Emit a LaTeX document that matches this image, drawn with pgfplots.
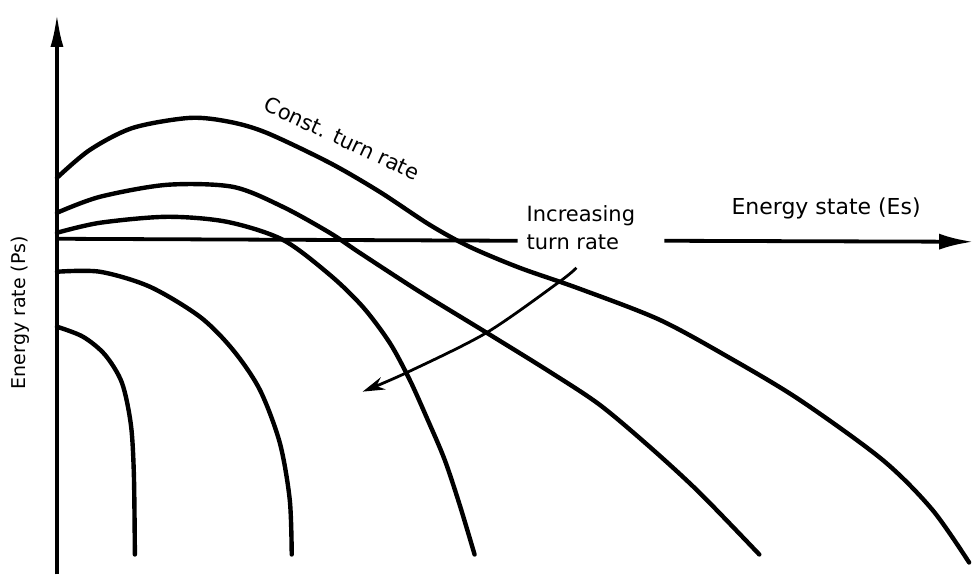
\documentclass[border=0pt]{standalone}
\usepackage{pgfplots}
\pgfplotsset{compat=1.18}
\usetikzlibrary{arrows.meta}
\usepackage{fontspec}
\setmainfont{DejaVu Sans}

\begin{document}
\begin{tikzpicture}
\begin{axis}[
    width=975pt, height=575pt, scale only axis,
    xmin=0, xmax=975, ymin=0, ymax=575,
    hide axis, clip=false,
    curve/.style={black, line width=4.4pt, smooth, mark=none, line cap=round},
]
% frame for the bounding box
\path (axis cs:0,0) rectangle (axis cs:975,575);

% axes (y measured upwards from the bottom edge)
\draw[line width=3.8pt, -{Latex[length=34pt, width=13pt]}] (axis cs:57,0) -- (axis cs:57,562);
\draw[line width=3.8pt] (axis cs:57,336) -- (axis cs:518,334);
\draw[line width=3.8pt, -{Latex[length=34pt, width=16pt]}] (axis cs:665,334) -- (axis cs:974,333);

% constant turn rate curves
\addplot[curve] coordinates {(57,397) (90,425) (133,447) (190,457) (230,453) (267,442) (330,412)
  (380,383) (430,350) (470,328) (520,307) (580,286) (660,255) (730,217) (800,175)
  (883,115) (933,65) (970,12)};
\addplot[curve] coordinates {(57,362) (100,378) (167,390) (233,388) (283,368) (330,342) (360,322)
  (420,283) (487,242) (550,203) (600,170) (650,128) (700,82) (760,20)};
\addplot[curve] coordinates {(57,342) (100,352) (167,358) (227,353) (283,335) (330,300) (363,268)
  (390,232) (410,195) (428,155) (445,115) (460,70) (475,20)};
\addplot[curve] coordinates {(57,303) (100,303) (150,288) (200,258) (233,225) (260,185) (280,132)
  (290,75) (292,20)};
\addplot[curve] coordinates {(57,248) (83,238) (105,220) (122,192) (131,150) (134,100) (135,20)};

% increasing turn rate arrow
\addplot[black, smooth, mark=none, line width=2.8pt, -{Stealth[length=22pt, width=13pt]}] coordinates {
  (577,307) (560,293) (487,242) (407,202) (363,183)};

% texts
\node[font=\fontsize{21}{28}\selectfont, anchor=base west, rotate=-25, inner sep=0pt]
  at (axis cs:263,465) {Const. turn rate};
\node[font=\fontsize{21}{28}\selectfont, anchor=west, align=left, inner sep=0pt]
  at (axis cs:527,347) {Increasing\\turn rate};
\node[font=\fontsize{22}{26}\selectfont, anchor=base west, inner sep=0pt]
  at (axis cs:732,360) {Energy state (Es)};
\node[font=\fontsize{19}{22}\selectfont, rotate=90, inner sep=0pt]
  at (axis cs:20,262) {Energy rate (Ps)};
\end{axis}
\end{tikzpicture}
\end{document}
